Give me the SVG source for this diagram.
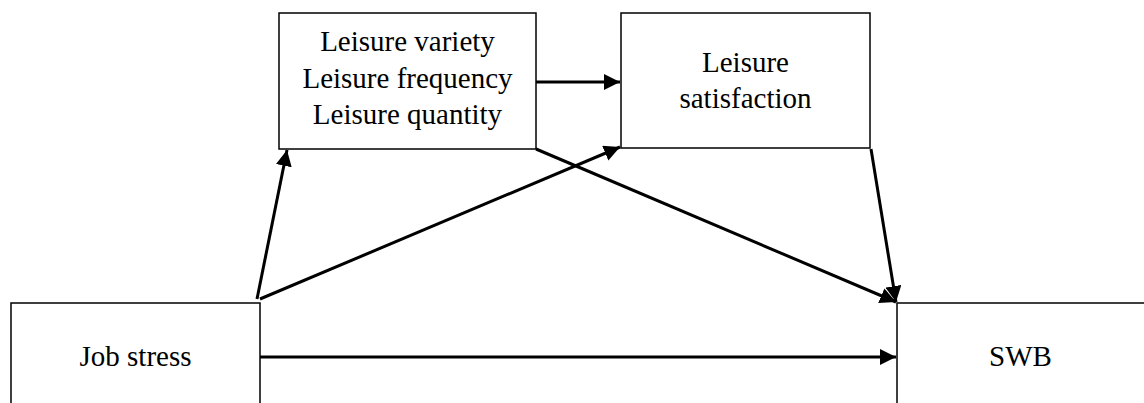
<svg xmlns="http://www.w3.org/2000/svg" width="1144" height="403" viewBox="0 0 1144 403">
  <style>
    .box { fill: #ffffff; stroke: #000000; stroke-width: 1.5; }
    .lbl { font-family: 'Liberation Serif', 'DejaVu Serif', serif; font-size: 29px; fill: #000000; text-anchor: middle; }
    .edge { stroke: #000000; stroke-width: 3; fill: none; marker-end: url(#arrow); }
  </style>
  <defs>
    <marker id="arrow" markerUnits="userSpaceOnUse" markerWidth="17" markerHeight="16" refX="16" refY="8" orient="auto">
      <path d="M0,0 L16,8 L0,16 Z" fill="#000000"/>
    </marker>
  </defs>

  <!-- path model nodes -->
  <g id="leisure-activity">
    <rect class="box" x="279" y="13" width="257" height="136"/>
    <text class="lbl" x="407.5" y="51" font-family="Liberation Serif, serif">Leisure variety</text>
    <text class="lbl" x="407.5" y="87.5" font-family="Liberation Serif, serif">Leisure frequency</text>
    <text class="lbl" x="407.5" y="124" font-family="Liberation Serif, serif">Leisure quantity</text>
  </g>

  <g id="leisure-satisfaction">
    <rect class="box" x="621" y="13" width="249" height="135"/>
    <text class="lbl" x="745.5" y="72">Leisure</text>
    <text class="lbl" x="745.5" y="108">satisfaction</text>
  </g>

  <g id="job-stress">
    <rect class="box" x="11" y="303" width="249" height="110"/>
    <text class="lbl" x="135.5" y="366">Job stress</text>
  </g>

  <g id="swb">
    <rect class="box" x="897" y="303" width="260" height="110"/>
    <text class="lbl" x="1020.5" y="366">SWB</text>
  </g>

  <!-- directed paths -->
  <g id="connectors">
    <line class="edge" x1="536" y1="82" x2="620" y2="82"/>
    <line class="edge" x1="257" y1="299" x2="287" y2="150"/>
    <line class="edge" x1="260" y1="299" x2="620" y2="147"/>
    <line class="edge" x1="536" y1="149" x2="896" y2="302"/>
    <line class="edge" x1="871" y1="149" x2="896" y2="302"/>
    <line class="edge" x1="260" y1="357" x2="896" y2="357"/>
  </g>
</svg>
